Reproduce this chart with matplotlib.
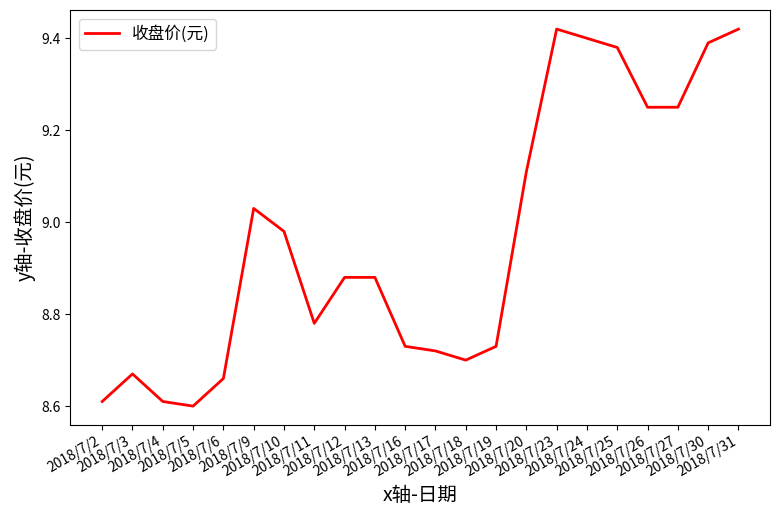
import matplotlib
matplotlib.use('Agg')
import matplotlib.pyplot as plt

plt.rcParams['font.family'] = ['Noto Sans CJK SC', 'DejaVu Sans']
plt.rcParams['axes.unicode_minus'] = False

dates = ['2018/7/2', '2018/7/3', '2018/7/4', '2018/7/5', '2018/7/6', '2018/7/9',
         '2018/7/10', '2018/7/11', '2018/7/12', '2018/7/13', '2018/7/16', '2018/7/17',
         '2018/7/18', '2018/7/19', '2018/7/20', '2018/7/23', '2018/7/24', '2018/7/25',
         '2018/7/26', '2018/7/27', '2018/7/30', '2018/7/31']
close = [8.61, 8.67, 8.61, 8.60, 8.66, 9.03, 8.98, 8.78, 8.88, 8.88, 8.73, 8.72,
         8.70, 8.73, 9.11, 9.42, 9.40, 9.38, 9.25, 9.25, 9.39, 9.42]

fig, ax = plt.subplots(figsize=(7.82, 5.12), dpi=100)
ax.plot(dates, close, color='red', linewidth=2, label='收盘价(元)')
ax.set_yticks([8.6, 8.8, 9.0, 9.2, 9.4])
ax.set_xlabel('x轴-日期', fontsize=14)
ax.set_ylabel('y轴-收盘价(元)', fontsize=14)
ax.legend(loc='upper left', fontsize=12)
fig.autofmt_xdate()
plt.subplots_adjust(left=0.09, right=0.985, top=0.98, bottom=0.17)
fig.savefig('out.png')
